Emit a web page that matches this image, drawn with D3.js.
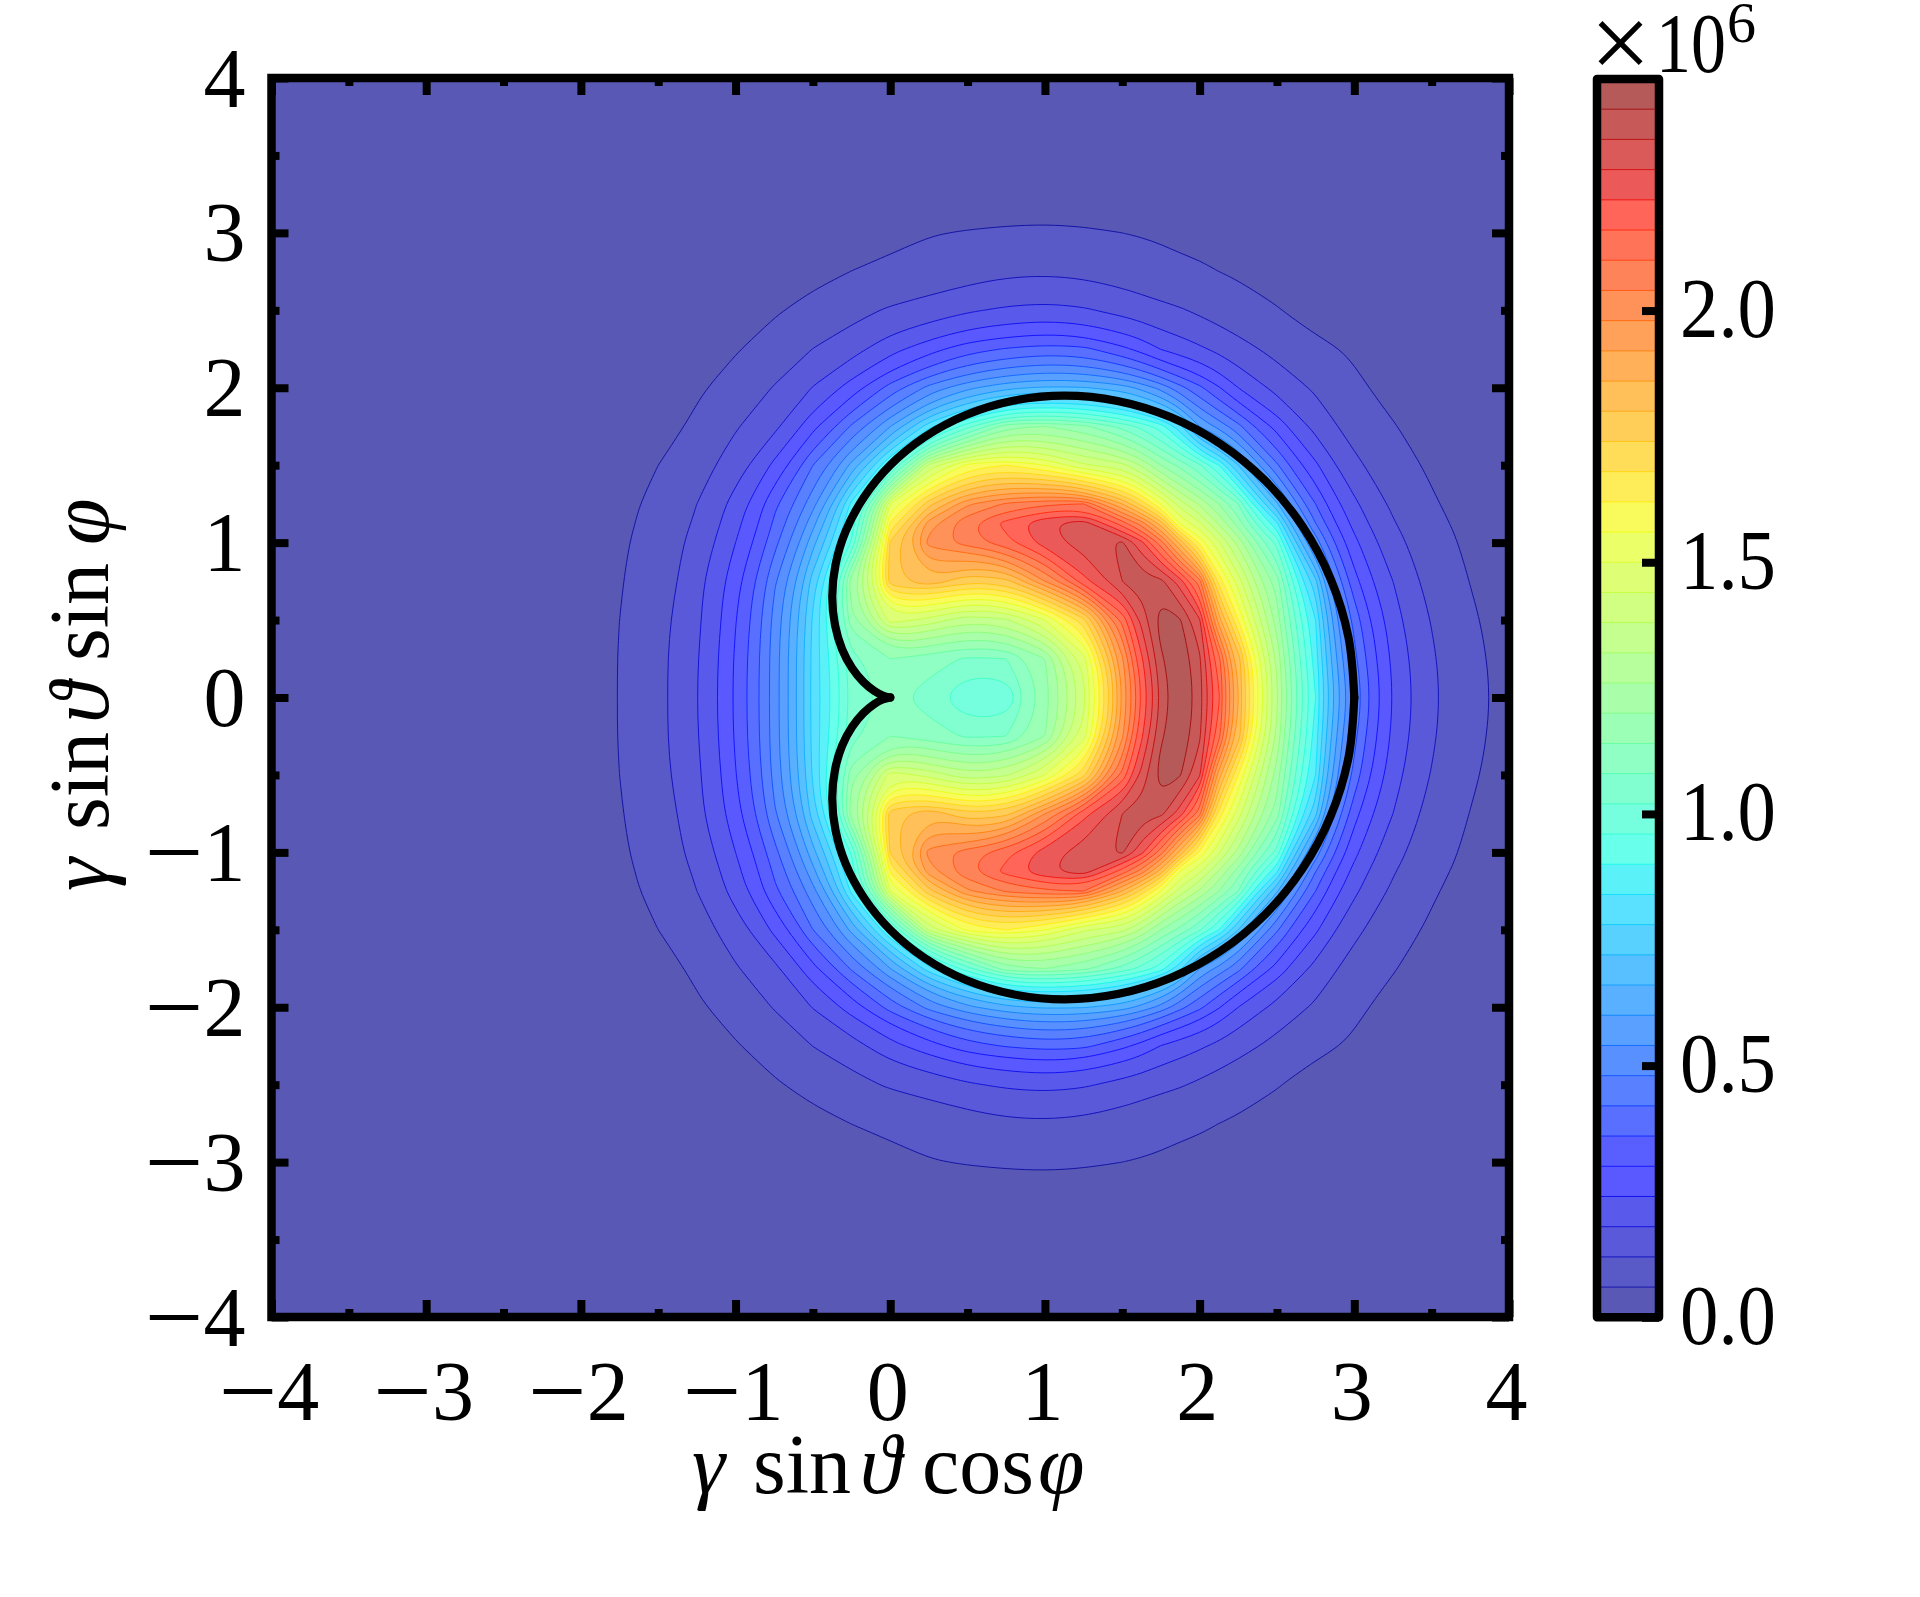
<!DOCTYPE html>
<html><head><meta charset="utf-8">
<script src="https://cdn.jsdelivr.net/npm/d3@7"></script>
<style>html,body{margin:0;padding:0;background:#fff}svg{display:block}text{font-family:"Liberation Serif",serif;fill:#000}</style>
</head><body><svg id="c" width="1920" height="1597"></svg>
<script>
// Grid columns (x) and rows (y >= 0; the picture is mirrored about y = 0)
const gridX = [-2.25,-2,-1.75,-1.5,-1.25,-1,-.75,-.5,-.25,0,.25,.5,.75,1,1.25,1.5,1.625,1.75,1.875,2,2.125,2.25,2.5,2.75,3,3.25,3.5,3.75,4,4.25];
const gridYUpper = [0,.25,.5,.75,1,1.125,1.25,1.5,1.75,2,2.25,2.5,2.75,3,3.25];
// Values in units of 10^6
const row000 = [.028,.0415,.0613,.1053,.179,.312,.51,.80,1.04,1.10,1.05,.96,.97,1.17,1.42,1.92,2.16,2.35,2.46,2.37,2.17,1.86,1.33,.90,.48,.238,.134,.076,.047,.03];
const row025 = [.028,.0415,.0613,.1053,.176,.309,.51,.80,1.06,1.14,1.11,1.07,1.08,1.2,1.47,1.97,2.21,2.39,2.45,2.35,2.12,1.835,1.305,.87,.44,.229,.129,.073,.0455,.03];
const row050 = [.0278,.0405,.06,.1014,.169,.297,.5,.79,1.18,1.47,1.42,1.34,1.37,1.5,1.72,2.12,2.30,2.43,2.405,2.29,1.89,1.62,1.23,.84,.40,.2095,.117,.067,.0424,.0275];
const row075 = [.0265,.0389,.0572,.0897,.1627,.28,.47,.75,1.24,1.78,1.85,1.75,1.78,1.98,2.2,2.34,2.37,2.36,2.25,2.07,1.66,1.47,1.17,.74,.324,.18,.101,.059,.038,.025];
const row100 = [.0245,.0361,.0529,.0849,.1423,.24,.40,.64,.97,1.75,2.0,2.07,2.14,2.25,2.31,2.35,2.24,2.07,1.84,1.61,1.45,1.30,1.0,.52,.257,.144,.084,.051,.033,.022];
const row112 = [.023,.034,.05,.078,.13,.222,.37,.58,.92,1.63,1.95,2.09,2.18,2.27,2.31,2.13,2.01,1.83,1.55,1.45,1.31,1.17,.85,.42,.222,.125,.075,.046,.03,.02];
const row125 = [.0221,.0324,.0477,.0732,.12,.2046,.345,.52,.86,1.5,1.78,1.97,2.05,2.09,2.1,1.86,1.72,1.56,1.41,1.31,1.2,1.08,.67,.36,.193,.11,.066,.042,.0275,.018];
const row150 = [.0189,.0278,.0409,.06,.0969,.152,.255,.42,.62,.93,1.4,1.58,1.62,1.56,1.45,1.40,1.31,1.2,1.12,1.03,.9,.72,.43,.252,.136,.083,.053,.0345,.022,.0145];
const row175 = [.0155,.0228,.0334,.0437,.07,.115,.167,.284,.43,.6,.82,1.0,1.18,1.2,1.16,1.06,1.0,.93,.8,.6,.52,.44,.28,.163,.096,.063,.041,.027,.017,.011];
const row200 = [.0121,.0178,.0261,.0384,.0535,.0814,.1238,.183,.27,.385,.50,.585,.645,.67,.665,.63,.58,.52,.44,.375,.305,.24,.1626,.1116,.0707,.0455,.03,.019,.012,.008];
const row225 = [.01,.0145,.022,.033,.046,.0565,.0829,.121,.1585,.2197,.277,.335,.365,.385,.375,.315,.28,.238,.2131,.19,.166,.1428,.1033,.0736,.053,.033,.0195,.0126,.008,.005];
const row250 = [.006,.0085,.0135,.02,.03,.044,.0553,.0748,.1013,.128,.1482,.173,.19,.199,.188,.1625,.149,.136,.125,.111,.097,.084,.063,.042,.0275,.018,.012,.0075,.005,.003];
const row275 = [.003,.005,.0075,.0115,.018,.028,.0385,.0485,.0605,.071,.085,.098,.11,.113,.108,.095,.087,.08,.073,.067,.06,.054,.042,.033,.022,.015,.009,.006,.004,.002];
const row300 = [.002,.003,.004,.006,.01,.015,.022,.031,.04,.0485,.0575,.0625,.0655,.0665,.0645,.06,.057,.053,.048,.045,.04,.036,.026,.019,.014,.009,.006,.004,.002,.001];
const row325 = [.001,.001,.002,.003,.005,.008,.012,.017,.022,.027,.032,.036,.039,.041,.04,.037,.034,.031,.028,.025,.021,.018,.013,.009,.006,.004,.003,.002,.001,.001];
// Thick black outline, upper half
const outlineX = [3,2.962,2.848,2.666,2.424,2.134,1.811,1.469,1.125,.794,.489,.221,0,-.170,-.288,-.354,-.375,-.357,-.311,-.246,-.174,-.106,-.049,0];
const outlineY = [0,.390,.763,1.104,1.400,1.638,1.811,1.915,1.949,1.916,1.824,1.681,1.5,1.293,1.074,.856,.650,.466,.311,.189,.101,.044,.013,0];
// Contour step, axis ticks and colour-bar ticks
const levelStep = .06, levelCount = 41;
const majorTicks = [-4,-3,-2,-1,0,1,2,3,4];
const minorTicks = [-3.5,-2.5,-1.5,-.5,.5,1.5,2.5,3.5];
const barTicks = [0,.5,1,1.5,2];
const barTop = 2.46;
const xLabelParts = [["γ",692,1],["sin",753,0],["ϑ",860,1],["cos",922,0],["φ",1038,1]];
const yLabelParts = [["γ",692,1],["sin",753,0],["ϑ",860,1],["sin",922,0],["φ",1038,1]];

const svg = d3.select("#c");
const x = d3.scaleLinear().domain([-4,4]).range([271.5,1509]);
const y = d3.scaleLinear().domain([-4,4]).range([1317,78]);
const bar = d3.scaleLinear().domain([0,barTop]).range([1317.3,79]);
const barL = 1597, barR = 1659;

const rs = d3.scaleLinear().domain([0,.35,.66,.89,1]).range([0,0,1,1,.5]).clamp(true);
const gs = d3.scaleLinear().domain([0,.125,.375,.64,.91,1]).range([0,0,1,1,0,0]).clamp(true);
const bs = d3.scaleLinear().domain([0,.11,.34,.65,1]).range([.5,1,1,0,0]).clamp(true);
const alpha = .65;
const blend = c => Math.round(255*(alpha*c + 1 - alpha));
const bandColor = v => { const t=v/barTop; return `rgb(${blend(rs(t))},${blend(gs(t))},${blend(bs(t))})`; };
const lineColor = v => { const t=v/barTop; const f=c=>Math.round(255*(.92*c+.08)); return `rgb(${f(rs(t))},${f(gs(t))},${f(bs(t))})`; };

const levels = d3.range(0,levelCount).map(i => +(i*levelStep).toFixed(2));

// Field: mirror the rows
const upper = [row000,row025,row050,row075,row100,row112,row125,row150,row175,row200,row225,row250,row275,row300,row325];
const rows = upper.slice(1).reverse().concat(upper);
const gridY = gridYUpper.slice(1).reverse().map(d=>-d).concat(gridYUpper);
const nx = gridX.length, ny = gridY.length;
// The fall-off is close to exponential, so contour on a log scale
const toLog = v => Math.log(v + .01);
const flat = rows.flat().map(toLog);

const contourGen = d3.contours().size([nx,ny]);
const shapes = levels.slice(1).map(l => Object.assign(contourGen.contour(flat,toLog(l)),{level:l}));
const gx = d3.scaleLinear().domain(gridX.map((d,i)=>i+.5)).range(gridX);
const gy = d3.scaleLinear().domain(gridY.map((d,i)=>i+.5)).range(gridY);
const ringLine = d3.line().x(p=>x(gx(p[0]))).y(p=>y(gy(p[1]))).curve(d3.curveBasisClosed);
const shapePath = s => s.coordinates.flatMap(poly => poly.map(ring => ringLine(ring.slice(0,-1)))).join("");

svg.append("clipPath").attr("id","plot").append("rect")
  .attr("x",x(-4)).attr("y",y(4)).attr("width",x(4)-x(-4)).attr("height",y(-4)-y(4));
const plot = svg.append("g").attr("clip-path","url(#plot)");
plot.append("rect").attr("x",x(-4)).attr("y",y(4)).attr("width",x(4)-x(-4)).attr("height",y(-4)-y(4))
  .attr("fill",bandColor(levelStep/2));
plot.selectAll("path.band").data(shapes).join("path").attr("class","band")
  .attr("d",shapePath).attr("fill-rule","evenodd")
  .attr("fill",s=>bandColor(s.level+levelStep/2));
plot.selectAll("path.iso").data(shapes).join("path").attr("class","iso")
  .attr("d",shapePath).attr("fill","none").attr("stroke-width",1)
  .attr("stroke",s=>lineColor(s.level));

// Outline
const upperPts = outlineX.map((d,i)=>[d,outlineY[i]]);
const lowerPts = upperPts.map(p=>[p[0],-p[1]]);
const outline = d3.line().x(p=>x(p[0])).y(p=>y(p[1])).curve(d3.curveCatmullRom.alpha(.5));
plot.selectAll("path.outline").data([upperPts,lowerPts]).join("path").attr("class","outline")
  .attr("d",outline).attr("fill","none").attr("stroke","#000").attr("stroke-width",8.2)
  .attr("stroke-linecap","round").attr("stroke-linejoin","round");

// Axes ticks on all four sides
const tickStyle = (g,w) => { g.select(".domain").remove(); g.selectAll(".tick line").attr("stroke","#000").attr("stroke-width",w); };
const addAxis = (gen,tx,ty,vals,len,fmt) => svg.append("g").attr("transform",`translate(${tx},${ty})`)
  .call(gen.tickValues(vals).tickSize(-len).tickFormat(fmt||"")).call(tickStyle,8);
const digitFmt = d => String(Math.abs(d));
const axB = addAxis(d3.axisBottom(x),0,y(-4),majorTicks,17,digitFmt);
addAxis(d3.axisBottom(x),0,y(-4),minorTicks,8);
addAxis(d3.axisTop(x),0,y(4),majorTicks,17);
addAxis(d3.axisTop(x),0,y(4),minorTicks,8);
const axL = addAxis(d3.axisLeft(y),x(-4),0,majorTicks,17,digitFmt);
addAxis(d3.axisLeft(y),x(-4),0,minorTicks,8);
addAxis(d3.axisRight(y),x(4),0,majorTicks,17);
addAxis(d3.axisRight(y),x(4),0,minorTicks,8);
const FS = 84;
// Long thin minus sign, as a larger glyph lowered back to the digit's mid-height
function withMinus(sel){
  sel.each(function(d){
    if(d>=0) return;
    const t = d3.select(this), s = t.text();
    t.text("");
    t.append("tspan").attr("font-size",104).attr("dy",6).text("\u2212");
    t.append("tspan").attr("dy",-6).text(s);
  });
}
axB.selectAll(".tick text").attr("font-size",FS).attr("dy",null).attr("y",103).attr("x",-3)
  .attr("text-anchor","middle").attr("font-family",'"Liberation Serif",serif').call(withMinus);
axL.selectAll(".tick text").attr("font-size",FS).attr("dy",null).attr("x",-26).attr("y",28)
  .attr("text-anchor","end").attr("font-family",'"Liberation Serif",serif').call(withMinus);

// Frame
svg.append("rect").attr("x",x(-4)).attr("y",y(4)).attr("width",x(4)-x(-4)).attr("height",y(-4)-y(4))
  .attr("fill","none").attr("stroke","#000").attr("stroke-width",8.5);

// Colour bar
svg.selectAll("rect.cb").data(levels).join("rect").attr("class","cb")
  .attr("x",barL).attr("width",barR-barL)
  .attr("y",d=>bar(Math.min(d+levelStep,barTop))).attr("height",d=>bar(d)-bar(Math.min(d+levelStep,barTop))+.5)
  .attr("fill",d=>bandColor(d+levelStep/2));
svg.selectAll("line.cbl").data(levels.slice(1)).join("line").attr("class","cbl")
  .attr("x1",barL).attr("x2",barR).attr("y1",d=>bar(d)).attr("y2",d=>bar(d))
  .attr("stroke",d=>lineColor(d)).attr("stroke-width",1);
const axC = svg.append("g").attr("transform",`translate(${barR},0)`)
  .call(d3.axisRight(bar).tickValues(barTicks).tickSize(-17).tickFormat(d3.format(".1f"))).call(tickStyle,8);
axC.selectAll(".tick text").attr("font-size",FS).attr("dy",null).attr("x",21).attr("y",26)
  .attr("text-anchor","start").attr("textLength",96).attr("lengthAdjust","spacingAndGlyphs")
  .attr("font-family",'"Liberation Serif",serif');
svg.append("rect").attr("x",barL).attr("y",bar(barTop)).attr("width",barR-barL).attr("height",bar(0)-bar(barTop))
  .attr("fill","none").attr("stroke","#000").attr("stroke-width",8.5).attr("stroke-linejoin","round");

// Offset text above colour bar
svg.append("text").attr("x",1590).attr("y",79).attr("font-size",108).text("×");
svg.append("text").attr("x",1656).attr("y",72).attr("font-size",FS).attr("textLength",70).attr("lengthAdjust","spacingAndGlyphs").text("10");
svg.append("text").attr("x",1727).attr("y",42).attr("font-size",58).text("6");

// Axis titles
svg.selectAll("text.xl").data(xLabelParts).join("text").attr("class","xl")
  .attr("x",d=>d[1]).attr("y",1493).attr("font-size",FS).attr("font-style",d=>d[2]?"italic":"normal").text(d=>d[0]);
svg.selectAll("text.yl").data(yLabelParts).join("text").attr("class","yl")
  .attr("transform",d=>`translate(108,${891-(d[1]-692)}) rotate(-90)`)
  .attr("font-size",FS).attr("font-style",d=>d[2]?"italic":"normal").text(d=>d[0]);
</script></body></html>
